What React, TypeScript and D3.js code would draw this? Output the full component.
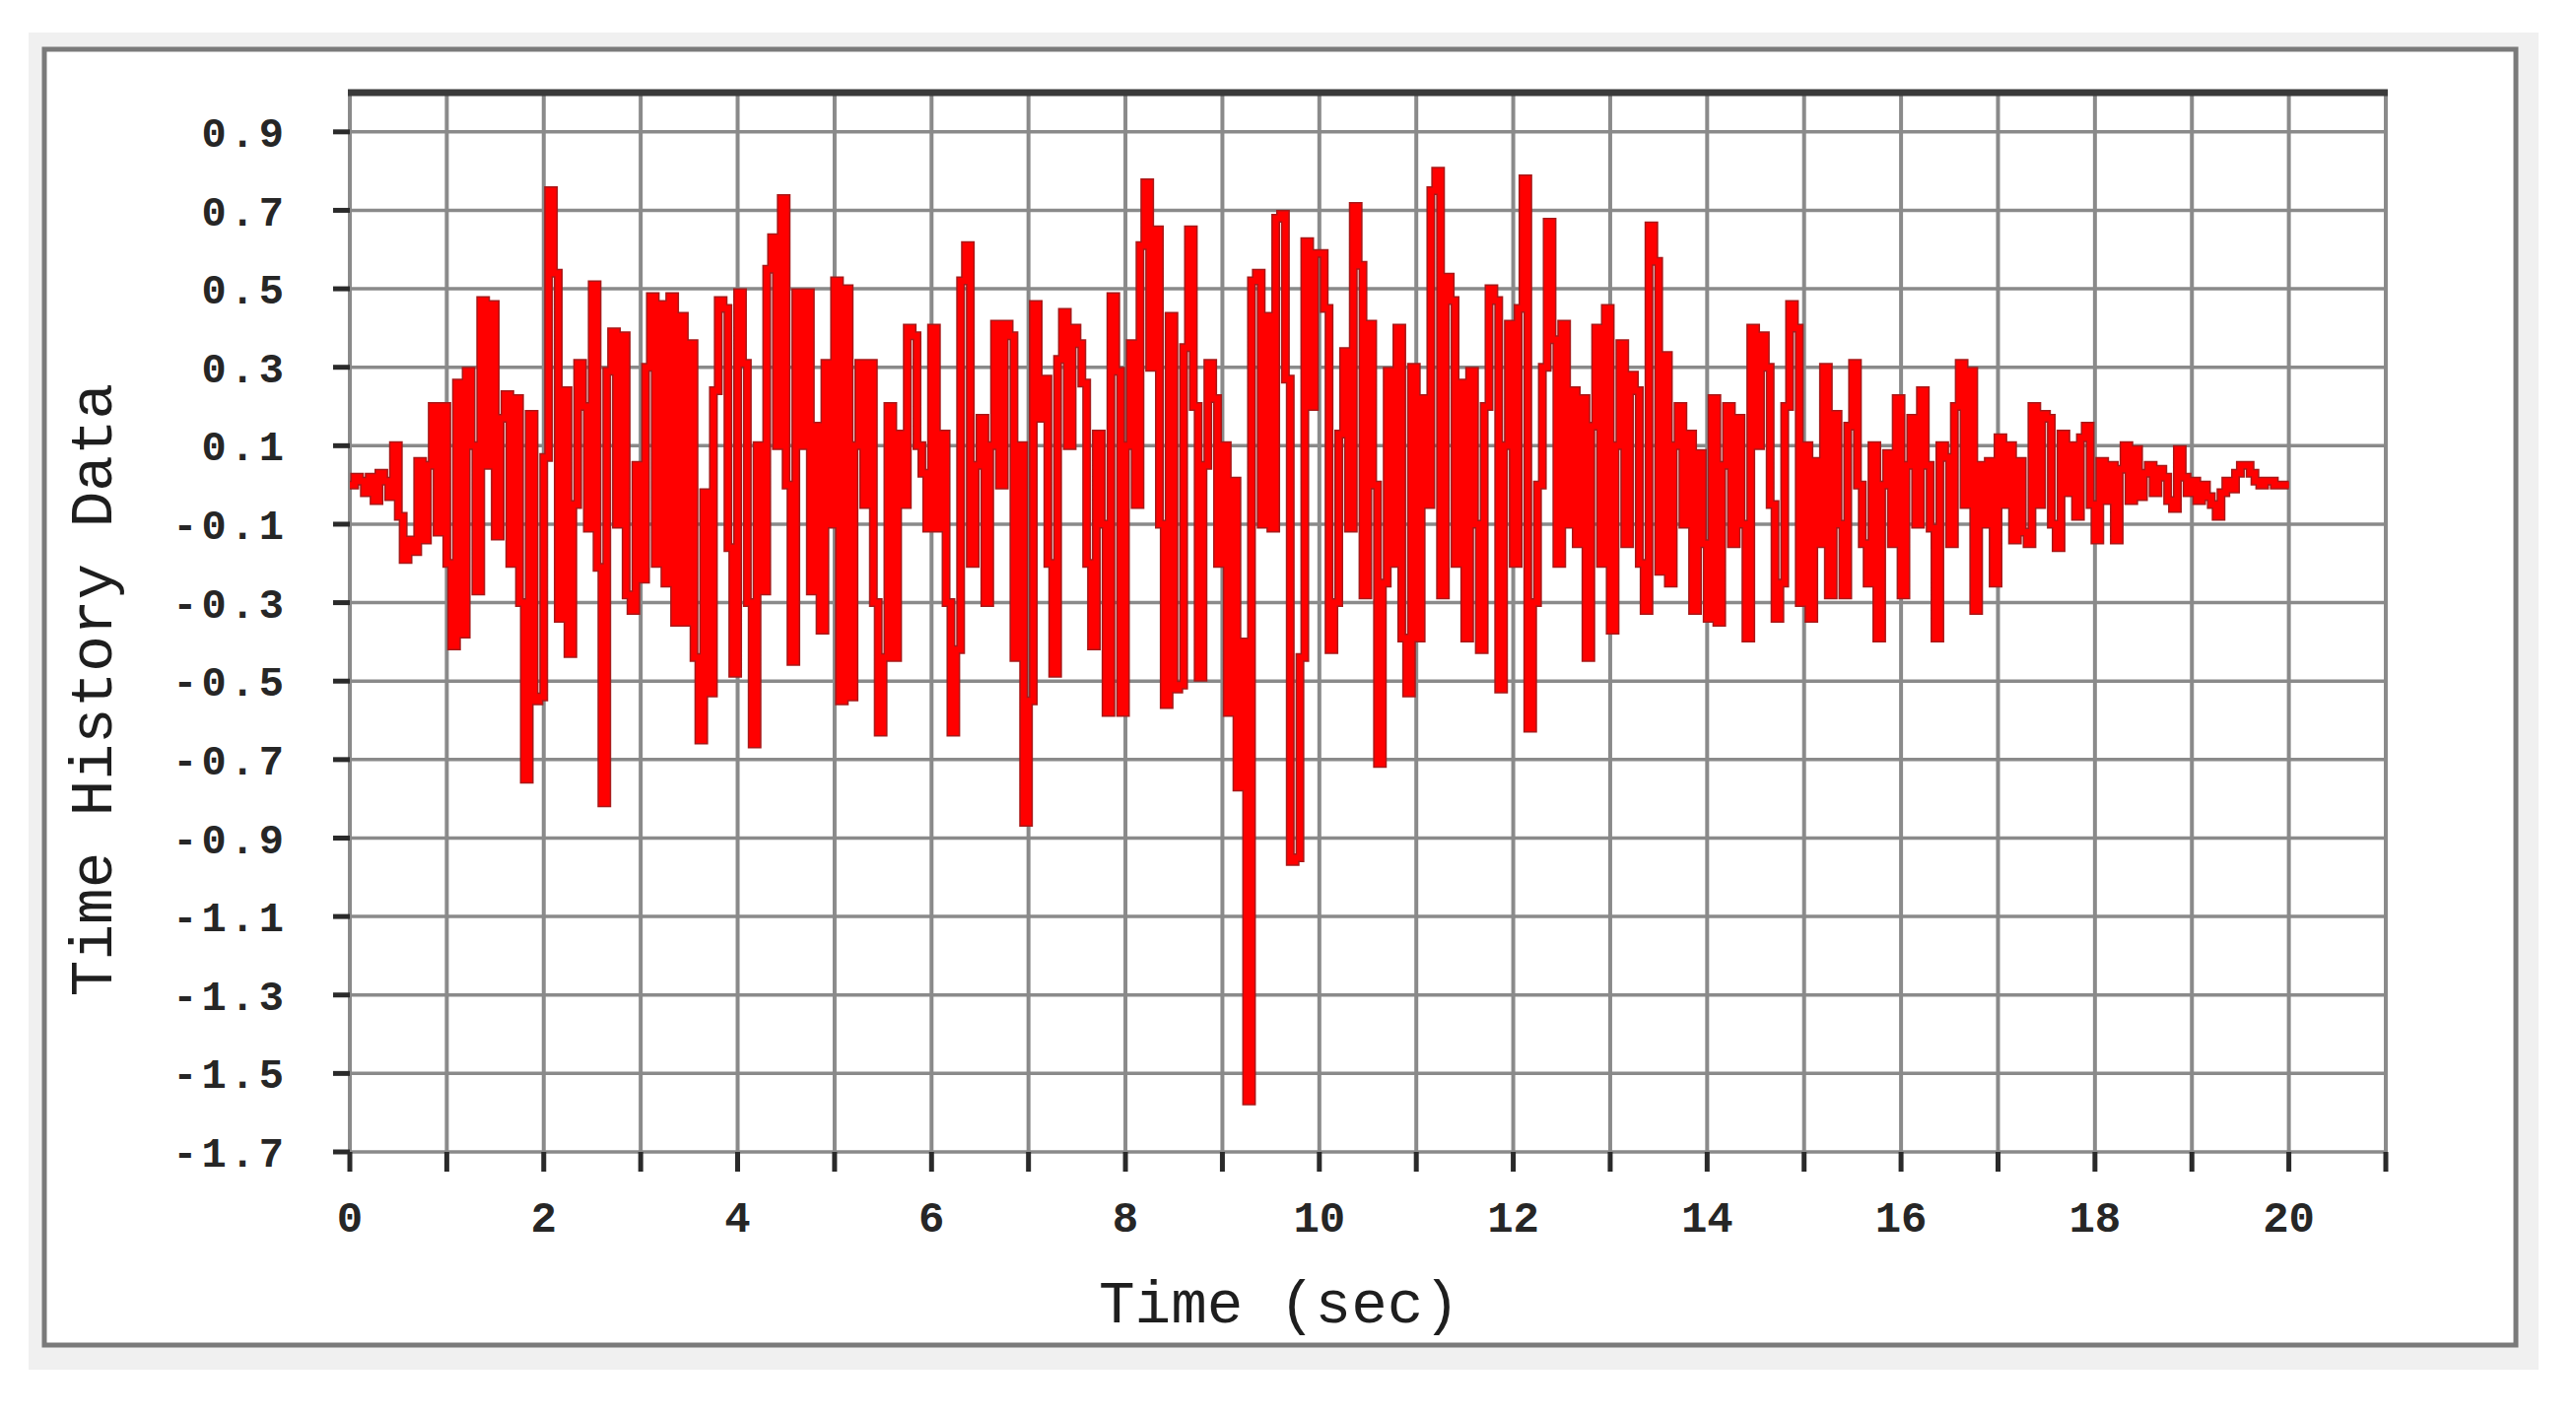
import React from 'react';
import * as d3 from 'd3';

// sampling step of the record (seconds)
const DT = 0.05;

// Time history values, 20 samples per second
const sec00to04 = [
  0.00, 0.02, 0.01, -0.02, 0.02, -0.04, 0.03, 0.01, -0.03, 0.10, -0.08, -0.19, -0.14, -0.17, 0.06, -0.14, 0.05, 0.20, -0.12, 0.20,
  -0.20, -0.41, 0.26, -0.38, 0.29, 0.10, -0.27, 0.47, 0.05, 0.46, -0.13, 0.17, 0.23, -0.20, 0.22, -0.30, -0.75, 0.18, -0.55, -0.54,
  0.07, 0.75, 0.54, -0.34, 0.24, -0.43, -0.05, 0.31, 0.20, -0.11, 0.51, -0.21, -0.81, 0.29, 0.39, -0.10, 0.38, -0.28, -0.32, 0.05,
  -0.24, 0.30, 0.48, -0.20, 0.46, -0.25, 0.48, -0.35, 0.43, -0.35, 0.36, -0.44, -0.65, -0.02, -0.53, 0.24, 0.47, 0.45, -0.16, -0.48,
];
const sec04to08 = [
  0.49, 0.31, -0.30, -0.66, 0.10, -0.27, 0.55, 0.63, 0.10, 0.73, 0.00, -0.45, 0.49, 0.10, 0.49, -0.27, 0.15, -0.37, 0.31, -0.10,
  0.52, -0.55, 0.50, -0.54, 0.10, 0.31, -0.05, 0.31, -0.30, -0.63, -0.44, 0.20, -0.44, 0.13, -0.05, 0.40, 0.38, 0.10, 0.03, -0.11,
  0.40, -0.11, 0.13, -0.30, -0.63, -0.42, 0.52, 0.61, -0.20, 0.05, 0.17, -0.30, 0.10, 0.41, 0.00, 0.41, 0.38, -0.44, 0.10, -0.86,
  -0.55, 0.46, 0.17, 0.27, -0.20, -0.48, 0.32, 0.44, 0.10, 0.40, 0.36, 0.26, -0.20, -0.41, 0.13, -0.10, -0.58, 0.48, 0.29, -0.58,
];
const sec08to12 = [
  0.10, 0.36, -0.05, 0.61, 0.77, 0.30, 0.65, -0.10, -0.56, 0.43, -0.52, -0.51, 0.35, 0.65, 0.20, -0.49, 0.05, 0.31, 0.22, -0.20,
  0.10, -0.58, 0.01, -0.77, -0.40, -1.57, 0.52, 0.54, -0.10, 0.43, -0.11, 0.68, 0.69, 0.27, -0.96, -0.95, -0.44, 0.62, 0.20, 0.59,
  0.59, 0.45, -0.42, -0.30, 0.13, 0.34, -0.11, 0.71, 0.56, -0.28, 0.41, 0.00, -0.71, -0.25, 0.29, -0.20, 0.40, -0.39, -0.53, 0.30,
  -0.39, 0.22, -0.05, 0.75, 0.80, -0.28, 0.53, 0.47, -0.20, 0.26, -0.39, 0.29, -0.10, -0.42, 0.20, 0.50, 0.47, -0.52, 0.10, 0.41,
];
const sec12to16 = [
  -0.20, 0.45, 0.78, -0.62, -0.30, 0.00, 0.30, 0.67, 0.37, -0.20, 0.41, -0.10, 0.24, -0.15, 0.22, -0.44, 0.15, 0.40, -0.20, 0.45,
  -0.37, 0.10, 0.36, -0.15, 0.28, 0.24, -0.20, -0.32, 0.66, 0.57, -0.22, 0.33, -0.25, 0.10, 0.20, -0.10, 0.13, -0.32, 0.08, -0.15,
  -0.34, 0.22, -0.35, 0.05, 0.20, -0.15, 0.17, -0.10, -0.39, 0.40, 0.10, 0.38, 0.30, -0.05, -0.34, -0.25, 0.20, 0.46, 0.40, -0.30,
  0.10, -0.34, 0.06, -0.15, 0.30, -0.28, 0.18, -0.10, -0.28, 0.15, 0.31, 0.00, -0.15, -0.25, 0.10, -0.39, 0.00, 0.08, -0.15, 0.22,
];
const sec16to20 = [
  -0.28, 0.05, 0.17, -0.10, 0.24, 0.05, -0.11, -0.39, 0.10, 0.07, -0.15, 0.20, 0.31, -0.05, 0.29, -0.32, 0.05, -0.10, 0.06, -0.25,
  0.12, -0.05, 0.10, -0.14, 0.06, -0.12, -0.15, 0.20, -0.05, 0.18, 0.17, -0.10, -0.16, 0.13, -0.02, 0.10, -0.08, 0.12, 0.15, -0.05,
  -0.14, 0.06, -0.04, 0.05, -0.14, 0.04, 0.10, -0.04, 0.09, -0.03, 0.03, 0.05, -0.02, 0.04, 0.02, -0.04, -0.06, 0.09, 0.02, -0.02,
  0.01, -0.04, 0.00, -0.03, -0.05, -0.08, -0.02, 0.01, -0.01, 0.03, 0.05, 0.05, 0.03, 0.01, 0.00, 0.01, 0.01, 0.00, 0.00, 0.00,
  0.00,
];

const xTicks = d3.range(0, 22); // 0..21 s, one tick each second
const xTickLabels = [0, 2, 4, 6, 8, 10, 12, 14, 16, 18, 20];
const yTicks = [0.9, 0.7, 0.5, 0.3, 0.1, -0.1, -0.3, -0.5, -0.7, -0.9, -1.1, -1.3, -1.5, -1.7];
const yTickLabels = ['0.9', '0.7', '0.5', '0.3', '0.1', '-0.1', '-0.3', '-0.5', '-0.7', '-0.9', '-1.1', '-1.3', '-1.5', '-1.7'];

const X_TITLE = 'Time (sec)';
const Y_TITLE = 'Time History Data';

const W = 2614;
const H = 1437;
const FONT = "'Liberation Mono', 'Courier New', monospace";

export default function App() {
  const values = [...sec00to04, ...sec04to08, ...sec08to12, ...sec12to16, ...sec16to20];
  const x = d3.scaleLinear().domain([0, 21]).range([355, 2421]);
  const y = d3.scaleLinear().domain([-1.7, 1.0]).range([1169, 94]);

  const line = d3
    .line<number>()
    .x((_, i) => x(i * DT))
    .y((d) => y(d))
    .curve(d3.curveStepAfter);

  const [x0, x1] = x.range();
  const yTop = y(1.0);
  const yBot = y(-1.7);
  const d = line(values) ?? '';

  return (
    <svg
      width={W}
      height={H}
      viewBox={`0 0 ${W} ${H}`}
      style={{ position: 'absolute', left: 0, top: 0, display: 'block', background: '#ffffff' }}
    >
      {/* window background and panel */}
      <rect x={29} y={33} width={2547} height={1357} fill="#f0f0f0" />
      <rect x={45} y={50} width={2508} height={1315} fill="#ffffff" stroke="#7a7a7a" strokeWidth={5} />

      {/* grid */}
      {yTicks.map((t) => (
        <line key={`gy${t}`} x1={x0} x2={x1} y1={y(t)} y2={y(t)} stroke="#8a8a8a" strokeWidth={3.5} />
      ))}
      {xTicks.map((t) => (
        <line key={`gx${t}`} x1={x(t)} x2={x(t)} y1={yTop} y2={yBot} stroke="#8a8a8a" strokeWidth={4} />
      ))}
      <line x1={x0 - 2} x2={x1 + 2} y1={yTop} y2={yTop} stroke="#3a3a3a" strokeWidth={7} />

      {/* ticks */}
      {yTicks.map((t) => (
        <line key={`ty${t}`} x1={x0 - 17} x2={x0} y1={y(t)} y2={y(t)} stroke="#2a2a2a" strokeWidth={5} />
      ))}
      {xTicks.map((t) => (
        <line key={`tx${t}`} x1={x(t)} x2={x(t)} y1={yBot} y2={yBot + 20} stroke="#2a2a2a" strokeWidth={5} />
      ))}

      {/* tick labels */}
      {yTicks.map((t, i) => (
        <text
          key={`ly${t}`}
          x={292}
          y={y(t)}
          dy="0.36em"
          textAnchor="end"
          fontFamily={FONT}
          fontWeight="bold"
          fontSize={42}
          letterSpacing={4}
          fill="#262626"
        >
          {yTickLabels[i]}
        </text>
      ))}
      {xTickLabels.map((t) => (
        <text
          key={`lx${t}`}
          x={x(t)}
          y={1250}
          textAnchor="middle"
          fontFamily={FONT}
          fontWeight="bold"
          fontSize={44}
          fill="#262626"
        >
          {t}
        </text>
      ))}

      {/* axis titles */}
      <text x={1298} y={1342} textAnchor="middle" fontFamily={FONT} fontSize={61} fill="#1e1e1e">
        {X_TITLE}
      </text>
      <text
        transform="translate(113,700) rotate(-90)"
        textAnchor="middle"
        fontFamily={FONT}
        fontSize={61}
        fill="#1e1e1e"
      >
        {Y_TITLE}
      </text>

      {/* signal: dark rim underneath, bright red on top */}
      <path d={d} fill="none" stroke="#a81818" strokeWidth={9} strokeLinejoin="miter" />
      <path d={d} fill="none" stroke="#ff0000" strokeWidth={6} strokeLinejoin="miter" />
    </svg>
  );
}
